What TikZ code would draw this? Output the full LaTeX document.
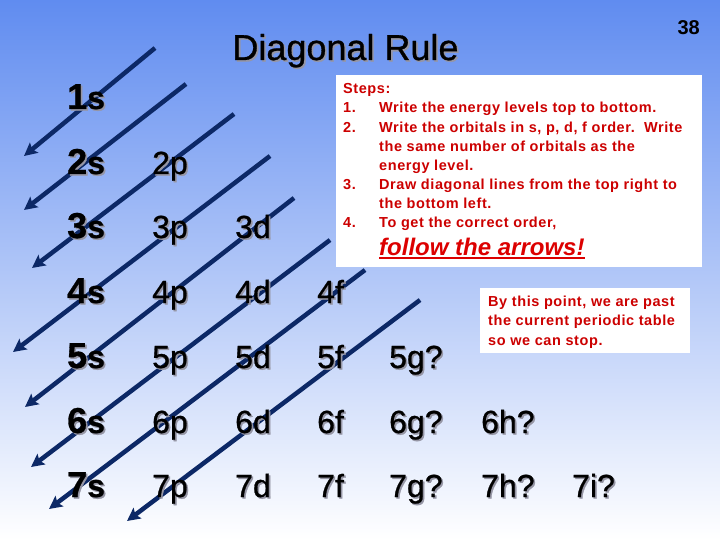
\documentclass[tikz,border=0pt]{standalone}
\usepackage{fontspec}
\setmainfont{Liberation Sans}
\usetikzlibrary{arrows.meta}
\definecolor{bgtop}{RGB}{96,140,240}
\definecolor{navy}{RGB}{12,40,102}
\definecolor{stepred}{RGB}{204,0,0}
\definecolor{followred}{RGB}{220,0,0}
\definecolor{shadowgray}{RGB}{150,150,165}
\newcommand\shd[1]{\leavevmode\rlap{\hspace{1.6pt}\raisebox{-1.6pt}{\color{shadowgray}#1}}#1}
\begin{document}
\begin{tikzpicture}[x=1pt,y=-1pt,
  arr/.style={draw=navy, line width=4.5pt, -{Stealth[length=13pt,width=13pt,inset=2.5pt]}},
  orb/.style={anchor=base west, inner sep=0pt, font=\fontsize{32}{38}\selectfont\addfontfeatures{FakeBold=0.8}},
  stp/.style={anchor=base west, inner sep=0pt, text=stepred, font=\fontsize{14.5}{19}\selectfont\bfseries\addfontfeatures{LetterSpace=4}},
  whitebox/.style={fill=white, draw=none, inner sep=0pt, anchor=north west}]
\useasboundingbox (0,0) rectangle (720,540);
\shade[top color=bgtop, bottom color=white] (0,0) rectangle (720,540);

% arrows
\coordinate (a1s) at (155,48);  \coordinate (a1e) at (24,156);
\coordinate (a2s) at (186,84);  \coordinate (a2e) at (24,210);
\coordinate (a3s) at (234,114); \coordinate (a3e) at (32,268);
\coordinate (a4s) at (270,156); \coordinate (a4e) at (13,352);
\coordinate (a5s) at (294,198); \coordinate (a5e) at (25,407);
\coordinate (a6s) at (330,240); \coordinate (a6e) at (31,467);
\coordinate (a7s) at (365,270); \coordinate (a7e) at (49,509);
\coordinate (a8s) at (420,300); \coordinate (a8e) at (127,521);
\foreach \i in {1,...,8} \draw[arr] (a\i s) -- (a\i e);

% title and page number
\node[anchor=base, inner sep=0pt, font=\fontsize{36}{40}\selectfont\addfontfeatures{FakeBold=0.8}] (title) at (345.5,60) {\shd{Diagonal Rule}};
\node[anchor=base east, inner sep=0pt, font=\fontsize{20}{24}\selectfont\bfseries] (pagenum) at (700,35) {38};

% boxes
\node[whitebox, minimum width=366pt, minimum height=192pt] (stepsbox) at (336,75) {};
\node[whitebox, minimum width=210pt, minimum height=65pt] (notebox) at (480,288) {};

% steps text
\node[stp] (steps) at (343,94) {Steps:};
\node[stp] (n1) at (343,113) {1.};
\node[stp] (t1) at (379,113) {Write the energy levels top to bottom.};
\node[stp] (n2) at (343,132.3) {2.};
\node[stp] (t2a) at (379,132.3) {Write the orbitals in s, p, d, f order.\ \ Write};
\node[stp] (t2b) at (379,151.5) {the same number of orbitals as the};
\node[stp] (t2c) at (379,170.7) {energy level.};
\node[stp] (n3) at (343,190) {3.};
\node[stp] (t3a) at (379,190) {Draw diagonal lines from the top right to};
\node[stp] (t3b) at (379,209) {the bottom left.};
\node[stp] (n4) at (343,228) {4.};
\node[stp] (t4) at (379,228) {To get the correct order,};
\node[anchor=base west, inner sep=0pt, text=followred, font=\fontsize{24}{28}\selectfont\bfseries\itshape] (follow) at (379,255) {follow the arrows!};
\fill[followred] ([yshift=-2pt]follow.base west) rectangle ([yshift=-4pt]follow.base east);

% note text
\node[stp] (note1) at (488,306) {By this point, we are past};
\node[stp] (note2) at (488,325.5) {the current periodic table};
\node[stp] (note3) at (488,345) {so we can stop.};

% orbital labels
\newcommand\scol[1]{\shd{{\bfseries\fontsize{36}{40}\selectfont #1}{\bfseries s}}}
\node[orb] (o1s) at (67,109) {\scol{1}};
\node[orb] (o2s) at (67,174) {\scol{2}};
\node[orb] (o2p) at (152,174) {\shd{2p}};
\node[orb] (o3s) at (67,238) {\scol{3}};
\node[orb] (o3p) at (152,238) {\shd{3p}};
\node[orb] (o3d) at (235,238) {\shd{3d}};
\node[orb] (o4s) at (67,303) {\scol{4}};
\node[orb] (o4p) at (152,303) {\shd{4p}};
\node[orb] (o4d) at (235,303) {\shd{4d}};
\node[orb] (o4f) at (317,303) {\shd{4f}};
\node[orb] (o5s) at (67,368) {\scol{5}};
\node[orb] (o5p) at (152,368) {\shd{5p}};
\node[orb] (o5d) at (235,368) {\shd{5d}};
\node[orb] (o5f) at (317,368) {\shd{5f}};
\node[orb] (o5g) at (389,368) {\shd{5g?}};
\node[orb] (o6s) at (67,433) {\scol{6}};
\node[orb] (o6p) at (152,433) {\shd{6p}};
\node[orb] (o6d) at (235,433) {\shd{6d}};
\node[orb] (o6f) at (317,433) {\shd{6f}};
\node[orb] (o6g) at (389,433) {\shd{6g?}};
\node[orb] (o6h) at (481,433) {\shd{6h?}};
\node[orb] (o7s) at (67,497) {\scol{7}};
\node[orb] (o7p) at (152,497) {\shd{7p}};
\node[orb] (o7d) at (235,497) {\shd{7d}};
\node[orb] (o7f) at (317,497) {\shd{7f}};
\node[orb] (o7g) at (389,497) {\shd{7g?}};
\node[orb] (o7h) at (481,497) {\shd{7h?}};
\node[orb] (o7i) at (572,497) {\shd{7i?}};
\end{tikzpicture}
\end{document}
